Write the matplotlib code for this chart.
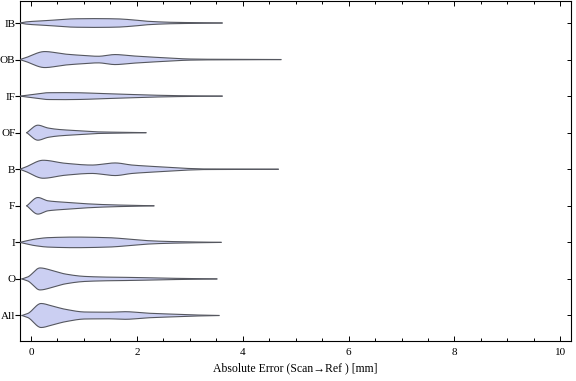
import numpy as np
import matplotlib
matplotlib.use("Agg")
import matplotlib.pyplot as plt
from matplotlib.ticker import MultipleLocator

# Categories, top to bottom
categories = ["IB", "OB", "IF", "OF", "B", "F", "I", "O", "All"]

# Violin profiles: error positions [mm] and relative density (half-width)
ib_x = [-0.21, -0.11, 0.32, 0.83, 1.20, 1.59, 1.91, 2.21, 2.66, 3.20, 3.61]
ib_d = [0.0, 1.0, 2.5, 4.2, 4.4, 4.2, 3.2, 1.7, 0.7, 0.3, 0.05]

ob_x = [-0.21, -0.11, 0.26, 0.64, 0.96, 1.27, 1.59, 1.91, 2.34, 2.72, 2.97, 3.40, 4.00, 4.72]
ob_d = [0.0, 1.7, 8.0, 5.5, 4.2, 3.3, 5.0, 3.7, 2.3, 1.2, 0.6, 0.3, 0.2, 0.05]

if_x = [-0.21, 0.08, 0.32, 0.60, 0.96, 1.27, 1.59, 2.10, 2.53, 3.00, 3.61]
if_d = [0.0, 2.0, 3.4, 3.5, 3.3, 2.7, 2.2, 1.3, 0.7, 0.3, 0.05]

of_x = [-0.08, 0.13, 0.32, 0.51, 0.78, 1.08, 1.27, 1.59, 2.17]
of_d = [0.0, 7.5, 4.7, 3.3, 2.3, 1.3, 0.8, 0.5, 0.05]

b_x = [-0.21, -0.11, 0.23, 0.64, 1.15, 1.59, 1.91, 2.34, 2.72, 2.97, 3.29, 4.00, 4.67]
b_d = [0.0, 2.0, 9.0, 6.0, 4.2, 6.3, 4.2, 2.7, 1.5, 0.8, 0.3, 0.2, 0.05]

f_x = [-0.08, 0.13, 0.32, 0.59, 0.96, 1.34, 1.72, 2.32]
f_d = [0.0, 8.3, 5.0, 3.7, 2.3, 1.3, 0.7, 0.05]

i_x = [-0.21, 0.08, 0.32, 0.83, 1.46, 1.91, 2.21, 2.53, 2.97, 3.59]
i_d = [0.0, 3.3, 4.7, 5.3, 4.7, 3.0, 1.7, 1.0, 0.5, 0.05]

o_x = [-0.17, -0.06, 0.17, 0.40, 0.64, 1.02, 1.46, 1.91, 2.34, 2.85, 3.51]
o_d = [0.0, 2.0, 11.0, 8.5, 5.0, 2.5, 1.8, 1.5, 1.0, 0.5, 0.05]

all_x = [-0.17, -0.06, 0.19, 0.40, 0.64, 1.02, 1.46, 1.78, 2.21, 2.59, 2.91, 3.55]
all_d = [0.0, 2.0, 12.0, 9.5, 6.3, 3.5, 3.3, 3.8, 2.3, 1.5, 0.8, 0.05]

profiles = [(ib_x, ib_d), (ob_x, ob_d), (if_x, if_d), (of_x, of_d), (b_x, b_d),
            (f_x, f_d), (i_x, i_d), (o_x, o_d), (all_x, all_d)]

x_ticks = [0, 2, 4, 6, 8, 10]
x_label = "Absolute Error (Scan\u2192Ref ) [mm]"


def pchip(x, y, xn):
    x = np.asarray(x, float)
    y = np.asarray(y, float)
    h = np.diff(x)
    d = np.diff(y) / h
    n = len(x)
    m = np.zeros(n)
    for k in range(1, n - 1):
        if d[k - 1] * d[k] <= 0:
            m[k] = 0.0
        else:
            w1 = 2 * h[k] + h[k - 1]
            w2 = h[k] + 2 * h[k - 1]
            m[k] = (w1 + w2) / (w1 / d[k - 1] + w2 / d[k])
    m[0] = d[0]
    m[-1] = d[-1]
    idx = np.clip(np.searchsorted(x, xn) - 1, 0, n - 2)
    t = (xn - x[idx]) / h[idx]
    h00 = 2 * t**3 - 3 * t**2 + 1
    h10 = t**3 - 2 * t**2 + t
    h01 = -2 * t**3 + 3 * t**2
    h11 = t**3 - t**2
    return h00 * y[idx] + h10 * h[idx] * m[idx] + h01 * y[idx + 1] + h11 * h[idx] * m[idx + 1]


W, H, DPI = 576, 381, 100
fig = plt.figure(figsize=(W / DPI, H / DPI), dpi=DPI)
ax = fig.add_axes([20 / W, 1 - 341 / H, (570.7 - 20) / W, (341 - 1) / H])

serif = ["Liberation Serif", "DejaVu Serif"]
fill_color = "#CBCFF2"
edge_color = "#55575f"
px_per_cat = 36.56
n = len(categories)
ypos = list(range(n, 0, -1))

for (xs, ds), yc in zip(profiles, ypos):
    xn = np.linspace(xs[0], xs[-1], 600)
    hw = np.clip(pchip(xs, ds, xn), 0, None) / px_per_cat
    ax.fill_between(xn, yc - hw, yc + hw, facecolor=fill_color, edgecolor="none", zorder=2)
    ax.plot(xn, yc + hw, color=edge_color, lw=0.8, zorder=3)
    ax.plot(xn, yc - hw, color=edge_color, lw=0.8, zorder=3)

ax.set_xlim((20 - 31) / 52.93, (570.7 - 31) / 52.93)
ax.set_ylim(1 - (341 - 315.5) / px_per_cat, n + (23 - 1) / px_per_cat)

ax.set_xticks(x_ticks)
ax.set_xticklabels([str(v) for v in x_ticks], fontfamily=serif, fontsize=8)
ax.xaxis.set_minor_locator(MultipleLocator(0.5))
ax.tick_params(axis="x", which="major", direction="in", length=3.6, width=0.7,
               top=True, bottom=True, pad=5)
ax.tick_params(axis="x", which="minor", direction="in", length=2.2, width=0.7,
               top=True, bottom=True)

ax.set_yticks(ypos)
ax.set_yticklabels(categories, fontfamily=serif, fontsize=8)
ax.tick_params(axis="y", which="major", direction="out", length=3.3, width=0.8,
               left=True, right=False, pad=0)
sec = ax.secondary_yaxis("right")
sec.set_yticks(ypos)
sec.set_yticklabels([])
sec.tick_params(axis="y", direction="in", length=3.0, width=0.7)
sec.spines["right"].set_visible(False)

for s in ax.spines.values():
    s.set_linewidth(0.8)
    s.set_color("black")

ax.set_xlabel(x_label, fontfamily=serif, fontsize=8.5, labelpad=4)

fig.savefig("out.png", dpi=DPI)
